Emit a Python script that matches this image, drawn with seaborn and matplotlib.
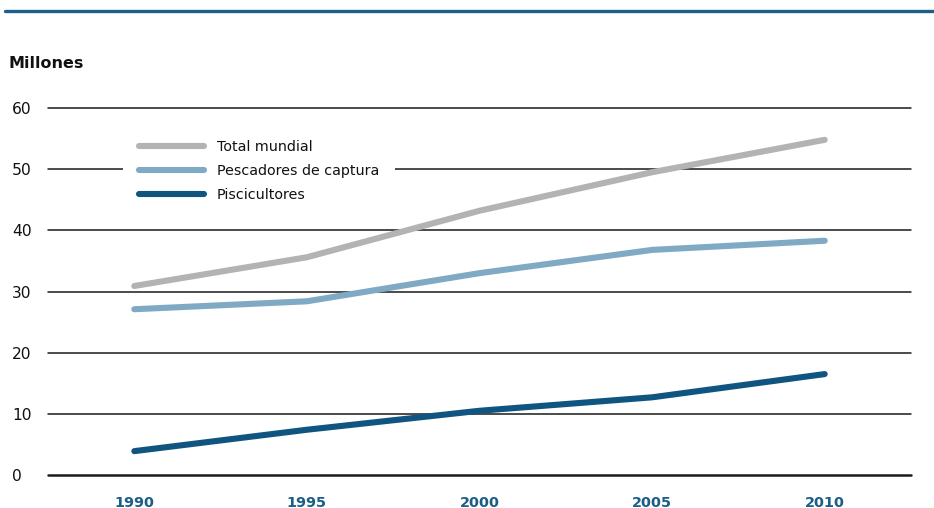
import matplotlib
matplotlib.use("Agg")
import matplotlib.pyplot as plt
import pandas as pd
import seaborn as sns

years = [1990, 1995, 2000, 2005, 2010]
total_mundial = [30.9, 35.6, 43.2, 49.5, 54.8]
pescadores_captura = [27.1, 28.4, 33.0, 36.8, 38.3]
piscicultores = [3.9, 7.4, 10.5, 12.7, 16.5]
series_names = ["Total mundial", "Pescadores de captura", "Piscicultores"]
y_ticks = [0, 10, 20, 30, 40, 50, 60]

colors = ["#b3b3b3", "#80a9c3", "#0f557f"]
blue = "#1b5e88"

df = pd.DataFrame({
    "Año": years * 3,
    "Millones": total_mundial + pescadores_captura + piscicultores,
    "Serie": [series_names[0]] * 5 + [series_names[1]] * 5 + [series_names[2]] * 5,
})

sns.set_theme(style="white")
plt.rcParams["font.family"] = ["DejaVu Sans"]

fig = plt.figure(figsize=(9.34, 5.08), dpi=100)
ax = fig.add_axes([48 / 934, 1 - 475 / 508, (911 - 48) / 934, (475 - 108) / 508])

# reference rules behind the data
for t in y_ticks:
    ax.axhline(t, color="#1a1a1a", lw=1.8 if t == 0 else 1.1, zorder=1, clip_on=False)

sns.lineplot(data=df, x="Año", y="Millones", hue="Serie", hue_order=series_names,
             palette=colors, lw=4.4, ax=ax, zorder=3, legend=True)
for ln in ax.get_lines():
    ln.set_solid_capstyle("round")

ax.set_xlim(1987.5, 2012.5)
ax.set_ylim(0, 60)
ax.set_xticks(years)
ax.set_xticklabels([str(y) for y in years], fontsize=10.4, fontweight="bold", color=blue)
ax.set_yticks(y_ticks)
ax.set_yticklabels([str(t) for t in y_ticks], fontsize=11.2, color="#111111", ha="left")
ax.tick_params(axis="y", length=0, pad=26)
ax.tick_params(axis="x", length=0, pad=15)
ax.set_xlabel("")
ax.set_ylabel("")
for s in ax.spines.values():
    s.set_visible(False)

leg = ax.legend(loc="upper left", bbox_to_anchor=((123 - 48) / 863, 1 - 16 / 367),
                borderaxespad=0, frameon=True, facecolor="white", edgecolor="none",
                framealpha=1, fontsize=10.3, handlelength=4.5, handletextpad=0.9,
                labelspacing=0.7, borderpad=1.15, title=None)
for h in leg.get_lines():
    h.set_linewidth(4.4)
    h.set_solid_capstyle("round")
for txt in leg.get_texts():
    txt.set_color("#111111")
leg.set_zorder(2)

fig.text(8 / 934, 1 - 63 / 508, "Millones", fontsize=11.5, fontweight="bold",
         color="#111111", va="center", ha="left")

# heading rule across the top
fig.add_artist(plt.Line2D([5 / 934, 1.0], [1 - 10.5 / 508] * 2, color=blue, lw=2.4,
                          transform=fig.transFigure))

fig.savefig("out.png", dpi=100, facecolor="white")
